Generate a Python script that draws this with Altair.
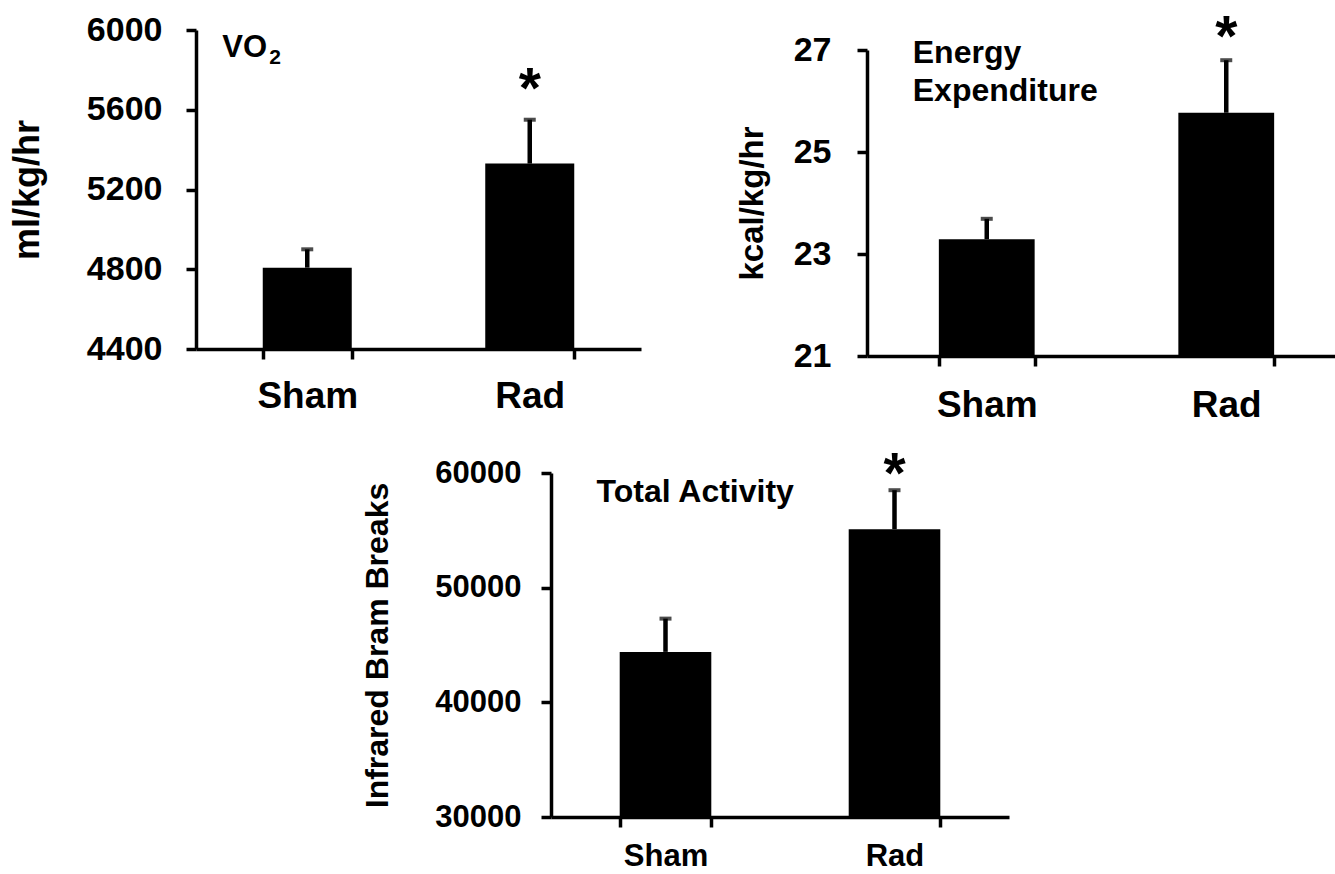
import altair as alt
import pandas as pd

FONT = "Liberation Sans"
W, H = 1335, 874

groups = ["Sham", "Rad"]

vo2_mean = [4808, 5330]
vo2_err = [92, 220]
vo2_ticks = [4400, 4800, 5200, 5600, 6000]

ee_mean = [23.29, 25.77]
ee_err = [0.40, 1.03]
ee_ticks = [21, 23, 25, 27]

act_mean = [44400, 55100]
act_err = [2900, 3400]
act_ticks = [30000, 40000, 50000, 60000]

star_group = "Rad"
vo2_star = 5744
ee_star = 27.42
act_star = 60610

vo2_label_y = 5865
ee_label_y = 26.74
act_label_y = 57500


def panel(means, errs, ticks, ytitle, xr, yr, tick_fs, cat_fs, title_fs,
          title_pad, ylab_pad, xlab_pad, star_val, texts):
    df = pd.DataFrame({
        "group": groups,
        "mean": means,
        "upper": [m + e for m, e in zip(means, errs)],
    })
    xscale = alt.Scale(domain=groups, range=xr, paddingInner=0.6, paddingOuter=0.3)
    xaxis = alt.Axis(orient="bottom", offset=yr[0] - H, title=None, labelAngle=0,
                     labelFont=FONT, labelFontSize=cat_fs, labelFontWeight="bold",
                     labelColor="black", labelPadding=xlab_pad, tickBand="extent",
                     tickSize=10, tickWidth=3.5, tickColor="black",
                     domainColor="black", domainWidth=3.5, grid=False)
    yscale = alt.Scale(domain=[ticks[0], ticks[-1]], range=[yr[0], yr[1]],
                       zero=False, nice=False)
    yaxis = alt.Axis(orient="left", offset=-xr[0], values=ticks, format="d",
                     title=ytitle, titleFont=FONT, titleFontSize=title_fs,
                     titleFontWeight="bold", titleColor="black", titlePadding=title_pad,
                     labelFont=FONT, labelFontSize=tick_fs, labelFontWeight="bold",
                     labelColor="black", labelPadding=ylab_pad,
                     tickSize=10, tickWidth=3.5, tickColor="black",
                     domainColor="black", domainWidth=3.5, grid=False)

    def X():
        return alt.X("group:N", sort=groups, scale=xscale, axis=xaxis)

    def Y(field):
        return alt.Y(field, scale=yscale, axis=yaxis)

    base = alt.Chart(df)
    bars = base.mark_bar(color="black").encode(
        x=X(), y=Y("mean:Q"), y2=alt.datum(ticks[0]))
    rules = base.mark_rule(color="black", strokeWidth=4.5).encode(
        x=X(), y=Y("mean:Q"), y2="upper:Q")
    caps = base.mark_tick(color="black", size=12, thickness=4).encode(
        x=X(), y=Y("upper:Q"))
    sdf = pd.DataFrame({"group": [star_group], "v": [star_val]})
    star = alt.Chart(sdf).mark_text(text="*", font=FONT, fontSize=57,
                                    fontWeight="bold", color="black",
                                    baseline="middle", dy=10).encode(
        x=X(), y=Y("v:Q"))
    layers = [bars, rules, caps, star]
    for t in texts:
        tdf = pd.DataFrame({"group": ["Sham"], "v": [t["y"]]})
        layers.append(
            alt.Chart(tdf).mark_text(text=t["text"], font=FONT, fontSize=t["fs"],
                                     fontWeight="bold", color="black", align="left",
                                     baseline="alphabetic", dx=t["dx"], dy=t.get("dy", 0),
                                     lineHeight=t.get("lh", t["fs"])).encode(
                x=X(), y=Y("v:Q"))
        )
    return alt.layer(*layers)


p1 = panel(vo2_mean, vo2_err, vo2_ticks, "ml/kg/hr", [196, 641], [349, 30],
           34, 37, 36, 40, 24, 19, vo2_star,
           [{"text": "VO", "y": vo2_label_y, "fs": 31, "dx": -85},
            {"text": "2", "y": vo2_label_y, "fs": 21, "dx": -38, "dy": 7}])

p2 = panel(ee_mean, ee_err, ee_ticks, "kcal/kg/hr", [867, 1346], [356, 50],
           34, 37, 33, 24, 26, 21, ee_star,
           [{"text": ["Energy", "Expenditure"], "y": ee_label_y, "fs": 32,
             "dx": -74, "lh": 38}])

p3 = panel(act_mean, act_err, act_ticks, "Infrared Bram Breaks", [551, 1009], [817, 473],
           31, 31, 32, 40, 20, 14, act_star,
           [{"text": "Total Activity", "y": act_label_y, "fs": 32, "dx": -69}])

chart = alt.layer(p1, p2, p3).resolve_scale(
    x="independent", y="independent"
).resolve_axis(
    x="independent", y="independent"
).properties(
    width=W, height=H, padding=0,
    autosize=alt.AutoSizeParams(type="none"),
).configure_view(stroke="transparent")

chart.save("out.html", embed_options={"renderer": "svg", "actions": False})
